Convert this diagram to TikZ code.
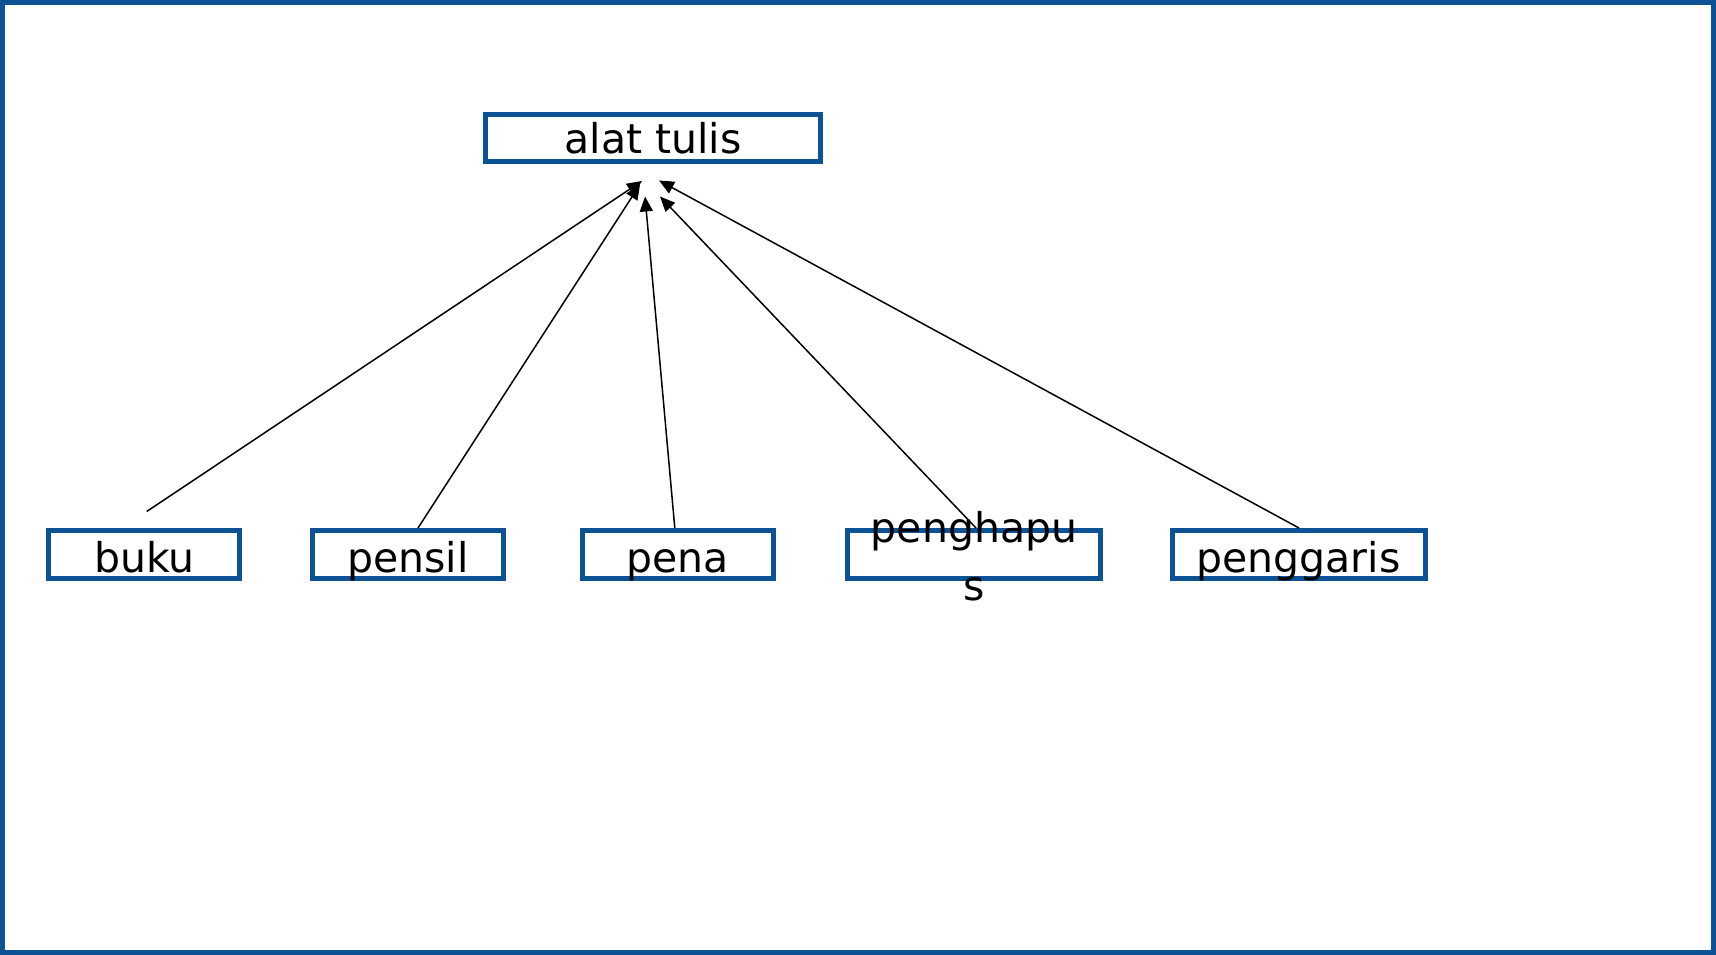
\documentclass[tikz,border=0pt]{standalone}
\usepackage{fontspec}
\setmainfont{DejaVu Sans}
\usetikzlibrary{arrows.meta}
\definecolor{frameblue}{RGB}{12,82,148}
\begin{document}
\begin{tikzpicture}[x=1pt,y=-1pt,
  box/.style={draw=frameblue, line width=5pt, rectangle, inner sep=0pt,
    minimum height=48pt, text height=41.5pt, text depth=6.5pt,
    font=\fontsize{41}{58}\selectfont},
  narrowbox/.style={box, minimum width=191pt},
  widebox/.style={box, minimum width=253pt},
  link/.style={draw=black, line width=1.5pt,
    -{Triangle[length=15pt,width=13pt]}}]
\useasboundingbox (0,0) rectangle (1716,955);
% outer frame
\draw[frameblue, line width=5pt] (2.5,2.5) rectangle (1713.5,952.5);

% parent
\node[box, minimum width=335pt, minimum height=47pt,
      text height=38.8pt, text depth=8.2pt] (alat) at (653,138) {alat tulis};

% children
\node[narrowbox] (buku)    at (144.4,554.5) {buku};
\node[narrowbox] (pensil)  at (408,554.5)   {pensil};
\node[narrowbox] (pena)    at (677.8,554.5) {pena};
\node[widebox, text height=11.5pt, text depth=36.5pt] (penghapus) at (974,554.5)
  {\begin{tabular}[t]{@{}c@{}}penghapu\\s\end{tabular}};
\node[widebox]   (penggaris) at (1298.5,554.5) {penggaris};

% connectors
\draw[link] ([shift={(2.3,-16.5)}]buku.north) -- ([shift={(-11,17)}]alat.south);
\draw[link] ([shift={(10,0)}]pensil.north) -- ([shift={(-13,20.5)}]alat.south);
\draw[link] ([shift={(-3,0)}]pena.north) -- ([shift={(-8,32.5)}]alat.south);
\draw[link] ([shift={(2,0)}]penghapus.north) -- ([shift={(7,32.5)}]alat.south);
\draw[link] ([shift={(0.5,0)}]penggaris.north) -- ([shift={(6,16.5)}]alat.south);
\end{tikzpicture}
\end{document}
